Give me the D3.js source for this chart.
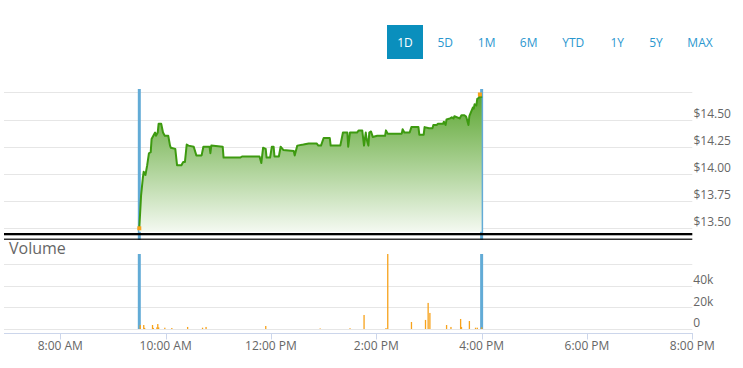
<!DOCTYPE html>
<html><head><meta charset="utf-8">
<script src="https://cdn.jsdelivr.net/npm/d3@7"></script>
<style>body{margin:0;background:#fff}svg{display:block;font-family:"Open Sans",sans-serif}</style>
</head><body><svg id="c" width="743" height="368"></svg>
<script>
const rangeButtons = ["1D","5D","1M","6M","YTD","1Y","5Y","MAX"];
const selectedButton = "1D";
const priceTimes = ["9:30","9:32","9:34","9:35","9:37","9:39","9:41","9:43","9:44","9:46",
"9:48","9:49","9:51","9:52","9:55","9:57","9:59","10:03","10:05","10:06",
"10:11","10:13","10:18","10:20","10:22","10:24","10:26","10:32","10:35","10:41",
"10:43","10:50","10:51","10:52","11:05","11:06","11:25","11:27","11:47","11:49",
"11:51","11:54","11:55","11:59","12:01","12:03","12:04","12:09","12:11","12:14",
"12:26","12:27","12:30","12:37","12:43","12:52","12:54","12:57","13:00","13:07",
"13:08","13:19","13:22","13:27","13:28","13:30","13:38","13:40","13:44","13:46",
"13:48","13:49","13:51","13:52","13:54","13:56","14:01","14:10","14:11","14:13",
"14:29","14:30","14:32","14:38","14:40","14:48","14:49","14:54","14:55","15:00",
"15:04","15:05","15:09","15:10","15:16","15:17","15:19","15:20","15:24","15:26",
"15:28","15:29","15:35","15:37","15:40","15:42","15:43","15:45","15:46","15:48",
"15:50","15:51","15:52","15:54","15:55","15:57","15:58","16:00"];
const prices = [13.50,13.80,13.96,14.02,13.99,14.08,14.19,14.20,14.32,14.35,
14.38,14.35,14.38,14.46,14.46,14.38,14.35,14.35,14.26,14.24,
14.23,14.08,14.08,14.11,14.11,14.27,14.26,14.25,14.17,14.17,
14.25,14.25,14.19,14.26,14.25,14.15,14.15,14.16,14.16,14.10,
14.24,14.23,14.15,14.15,14.25,14.25,14.16,14.16,14.25,14.22,
14.21,14.17,14.26,14.27,14.28,14.28,14.26,14.26,14.33,14.33,
14.26,14.26,14.38,14.38,14.25,14.38,14.38,14.40,14.40,14.26,
14.38,14.32,14.26,14.38,14.39,14.34,14.35,14.35,14.40,14.37,
14.37,14.41,14.38,14.38,14.43,14.43,14.36,14.36,14.43,14.42,
14.42,14.45,14.45,14.46,14.46,14.48,14.45,14.50,14.51,14.52,
14.51,14.53,14.51,14.54,14.54,14.53,14.51,14.45,14.53,14.57,
14.61,14.60,14.64,14.63,14.69,14.70,14.73,14.70];
const volumeTimes = ["9:31","9:35","9:36","9:45","9:46","9:50","9:51","9:52","9:59","10:07",
"10:25","10:42","10:46","11:54","12:56","13:30","13:46","14:11","14:13","14:40",
"14:56","14:59","15:01","15:20","15:25","15:36","15:37","15:46","15:53","15:55","16:00"];
const volumes = [3700,3700,1000,3700,1000,1500,4600,1500,1200,900,
1900,1200,1900,2800,500,700,13000,900,69800,6500,
8400,24200,14900,3700,1900,9300,1900,7400,1200,1200,1500];
const priceGrid = [13.50,13.75,14.00,14.25,14.50,14.75];
const priceLabels = [13.50,13.75,14.00,14.25,14.50];
const volumeGrid = [0,20000,40000,60000];
const volumeLabels = [0,20000,40000];
const sessionLines = ["9:30","16:00"];
const axisStart = "8:00", axisEnd = "20:00";

const T = s => { const [h,m] = s.split(":").map(Number); return new Date(2020,0,2,h,m); };
const svg = d3.select("#c");
const L = 4, R = 692.3;
const x = d3.scaleTime().domain([T(axisStart), T(axisEnd)]).range([60.3, R]);
const yP = d3.scaleLinear().domain([13.5, 14.75]).range([228.3, 92.3]);
const yV = d3.scaleLinear().domain([0, 60000]).range([329, 264.3]);
const pTop = 89, pBot = 231.8, vTop = 254, vBot = 329;
const grid = "#e6e6e6", labelC = "#666666", blue = "#62abd6", orange = "#f7a21b";

// buttons
const bx = [405, 445.3, 486.7, 528.7, 573.3, 617.3, 656, 700];
rangeButtons.forEach((b,i) => {
  const sel = b === selectedButton;
  if (sel) svg.append("rect").attr("x", bx[i]-18).attr("y", 25).attr("width", 36).attr("height", 34).attr("fill", "#0a8fbd");
  svg.append("text").attr("x", bx[i]).attr("y", 47).attr("text-anchor","middle")
    .attr("font-size", 12).attr("fill", sel ? "#fff" : "#2b97cf").text(b);
});

// price gridlines
svg.append("g").selectAll("line").data(priceGrid).join("line")
  .attr("x1", L).attr("x2", R).attr("y1", d => Math.round(yP(d))+0.5).attr("y2", d => Math.round(yP(d))+0.5)
  .attr("stroke", grid);
svg.append("g").selectAll("text").data(priceLabels).join("text")
  .attr("x", 693.5).attr("y", d => yP(d) - 2).attr("font-size", 12).attr("fill", labelC)
  .text(d => "$" + d3.format(".2f")(d));

// session lines (price panel)
svg.append("g").selectAll("line").data(sessionLines).join("line")
  .attr("x1", d => x(T(d))).attr("x2", d => x(T(d))).attr("y1", pTop).attr("y2", 240)
  .attr("stroke", blue).attr("stroke-width", 3);

// area
const defs = svg.append("defs");
const g = defs.append("linearGradient").attr("id","ag").attr("gradientUnits","userSpaceOnUse")
  .attr("x1",0).attr("x2",0).attr("y1",92).attr("y2",pBot);
g.append("stop").attr("offset",0).attr("stop-color","#58a42c");
g.append("stop").attr("offset",1).attr("stop-color","#f4f9f1");
const pdata = priceTimes.map((t,i) => ({t:T(t), p:prices[i]}));
svg.append("path").datum(pdata).attr("fill","url(#ag)")
  .attr("d", d3.area().x(d => x(d.t)).y0(pBot).y1(d => yP(d.p)));
svg.append("path").datum(pdata).attr("fill","none").attr("stroke","#3d9a10").attr("stroke-width",2)
  .attr("stroke-linejoin","round")
  .attr("d", d3.line().x(d => x(d.t)).y(d => yP(d.p)));
// min / max markers
const ext = [d3.least(pdata, d => d.p), d3.greatest(pdata, d => d.p)];
svg.append("g").selectAll("rect").data(ext).join("rect")
  .attr("x", d => x(d.t)-2).attr("y", d => yP(d.p)-2).attr("width",4).attr("height",4).attr("fill", orange);

// separator lines
svg.append("rect").attr("x", L).attr("y", 233).attr("width", R-L).attr("height", 2.3).attr("fill","#000");
svg.append("rect").attr("x", L).attr("y", 238.6).attr("width", R-L).attr("height", 1.2).attr("fill","#000");

// volume
svg.append("text").attr("x", 9).attr("y", 253.5).attr("font-size", 16).attr("fill", labelC).text("Volume");
svg.append("g").selectAll("line").data(volumeGrid).join("line")
  .attr("x1", L).attr("x2", R).attr("y1", d => Math.round(yV(d))+0.5).attr("y2", d => Math.round(yV(d))+0.5)
  .attr("stroke", grid);
svg.append("g").selectAll("text").data(volumeLabels).join("text")
  .attr("x", 693.3).attr("y", d => yV(d) - 1.8).attr("font-size", 12).attr("fill", labelC)
  .text(d => d === 0 ? "0" : (d/1000) + "k");
svg.append("g").selectAll("line").data(sessionLines).join("line")
  .attr("x1", d => x(T(d))).attr("x2", d => x(T(d))).attr("y1", vTop).attr("y2", vBot)
  .attr("stroke", blue).attr("stroke-width", 3);
svg.append("g").selectAll("rect").data(volumeTimes).join("rect")
  .attr("x", d => x(T(d)) - 0.6).attr("width", 1.3)
  .attr("y", (d,i) => Math.max(vTop, yV(volumes[i])))
  .attr("height", (d,i) => vBot - Math.max(vTop, yV(volumes[i])))
  .attr("fill", orange);

// x axis
const ax = svg.append("g").attr("transform", "translate(0,333)");
ax.append("line").attr("x1", L).attr("x2", R).attr("y1", 0.5).attr("y2", 0.5).attr("stroke", "#ccd6eb");
const ticks = x.ticks(d3.timeHour.every(2));
ax.selectAll("line.t").data(ticks).join("line").attr("class","t")
  .attr("x1", d => Math.round(x(d))+0.5).attr("x2", d => Math.round(x(d))+0.5).attr("y1", 0).attr("y2", 6.5)
  .attr("stroke", "#ccd6eb");
ax.selectAll("text").data(ticks).join("text")
  .attr("x", d => x(d)).attr("y", 17).attr("text-anchor","middle").attr("font-size", 12).attr("fill", labelC)
  .text(d => d3.timeFormat("%-I:%M %p")(d));
</script></body></html>
